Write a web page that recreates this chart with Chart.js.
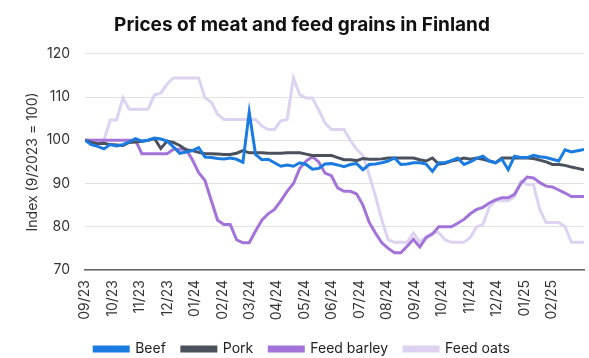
<!DOCTYPE html>
<html lang="en">
<head>
    <meta charset="UTF-8">
    <title>Prices of meat and feed grains in Finland</title>
    <script src="https://cdn.jsdelivr.net/npm/chart.js"></script>
    <style>
        html, body { margin: 0; padding: 0; background: #fff; }
        .wrap { width: 589px; height: 358px; }
    </style>
</head>
<body>
    <div class="wrap">
        <canvas id="myChart" width="589" height="358"></canvas>
    </div>

<script>
    // weekly index values, first week = 09/2023
    var beef = [100, 99, 98.6, 98, 99, 98.7, 99, 99.6, 100.4, 99.8, 100, 100.5, 100.3, 99.8, 98.5, 97, 97.3, 97.6, 98.3, 96.1,
        96, 95.8, 95.7, 95.9, 95.6, 94.9, 106.5, 96.7, 95.5, 95.6, 94.8, 94, 94.3, 94, 94.8, 94.4, 93.3, 93.5, 94.5, 94.6,
        94.3, 93.9, 94.4, 94.6, 93.2, 94.4, 94.5, 94.8, 95.2, 95.9, 94.4, 94.5, 94.8, 94.8, 94.5, 92.8, 94.8, 94.8, 95.3, 95.9,
        94.4, 95, 95.8, 96.3, 95.2, 94.8, 95.6, 93.2, 96.3, 96, 96, 96.5, 96.2, 96, 95.6, 95.2, 97.8, 97.3, 97.6, 97.9];
    var pork = [100, 99.5, 99.2, 99.3, 99, 98.9, 98.8, 99.5, 99.6, 99.8, 100, 100.4, 98.1, 99.8, 99.5, 98.8, 97.8, 97.6, 97.2, 96.9,
        96.9, 96.8, 96.7, 96.7, 97, 97.6, 97.1, 97.1, 97.1, 97, 97, 97, 97.1, 97.1, 97.1, 96.8, 96.5, 96.5, 96.5, 96.5,
        96, 95.5, 95.5, 95.3, 95.8, 95.6, 95.6, 95.7, 95.9, 95.9, 95.9, 95.9, 95.9, 95.5, 95.2, 95.9, 94.5, 94.7, 95.2, 95.5,
        95.9, 95.6, 95.9, 95.6, 95.2, 94.8, 95.9, 95.9, 95.9, 95.9, 95.9, 95.8, 95.4, 95, 94.4, 94.4, 94.2, 93.8, 93.5, 93.2];
    var barley = [100, 100, 100, 100, 100, 100, 100, 100, 100, 96.9, 96.9, 96.9, 96.9, 96.9, 97.9, 97.9, 97.9, 95.5, 92.5, 90.7,
        86, 81.5, 80.5, 80.5, 77, 76.3, 76.3, 79, 81.5, 83, 84, 86, 88.2, 90, 93.5, 95.2, 96.2, 95, 92.4, 91.8,
        89, 88.2, 88.2, 87.6, 85, 81, 78.5, 76.3, 75, 74, 74, 75.5, 77.1, 75.3, 77.5, 78.3, 80, 80, 80, 80.8,
        81.7, 83, 84, 84.5, 85.5, 86.2, 86.7, 86.7, 87.5, 90, 91.5, 91.3, 90.2, 89.4, 89.2, 88.5, 87.8, 87, 87, 87];
    var oats = [100, 100, 100, 100, 104.7, 104.7, 109.8, 107.2, 107.2, 107.2, 107.2, 110.5, 110.9, 113, 114.4, 114.4, 114.4, 114.4, 114.4, 109.8,
        108.8, 106, 104.8, 104.8, 104.8, 104.8, 104.8, 104.8, 103.3, 102.5, 102.5, 104.5, 104.8, 114.4, 110.5, 109.8, 109.8, 107, 104, 102.5,
        102.5, 102.5, 100, 97.9, 96.5, 92, 87, 81.5, 77, 76.4, 76.4, 76.4, 78.6, 76.5, 77.7, 78.6, 78.6, 77, 76.4, 76.4,
        76.4, 77.5, 80, 80.5, 84.5, 86, 86, 86, 87, 90.5, 89.8, 89.8, 84, 81, 81, 81, 80, 76.4, 76.4, 76.4];

    var monthLabels = ['09/23', '10/23', '11/23', '12/23', '01/24', '02/24', '03/24', '04/24', '05/24', '06/24',
        '07/24', '08/24', '09/24', '10/24', '11/24', '12/24', '01/25', '02/25'];
    var yTicks = [70, 80, 90, 100, 110, 120];

    var weeksPerMonth = 30.44 / 7;
    var fonte = 'Inter';

    function serie(valores) {
        return valores.map(function (v, i) { return { x: i, y: v }; });
    }

    function linha(nome, valores, cor) {
        return {
            label: nome,
            data: serie(valores),
            borderColor: cor,
            backgroundColor: cor,
            borderWidth: 3,
            pointRadius: 0,
            tension: 0
        };
    }

    var config = {
        type: 'line',
        data: {
            datasets: [
                linha('Beef', beef, '#1a7be0'),
                linha('Pork', pork, '#4a515c'),
                linha('Feed barley', barley, '#a273d9'),
                linha('Feed oats', oats, '#ddd2f0')
            ]
        },
        options: {
            responsive: false,
            animation: false,
            layout: { padding: { left: 20, right: 5, top: 10, bottom: 0 } },
            plugins: {
                title: {
                    display: true,
                    text: 'Prices of meat and feed grains in Finland',
                    font: { size: 19, weight: 'bold', family: fonte },
                    color: '#111',
                    padding: { top: 4, bottom: 17 }
                },
                legend: {
                    position: 'bottom',
                    labels: {
                        boxWidth: 34,
                        boxHeight: 4,
                        padding: 16,
                        font: { size: 14, family: fonte },
                        color: '#222'
                    }
                },
                tooltip: { enabled: false }
            },
            scales: {
                x: {
                    type: 'linear',
                    min: 0,
                    max: beef.length - 1,
                    grid: { display: false, drawTicks: false },
                    border: { display: true, color: '#666', width: 1.5 },
                    afterBuildTicks: function (scale) {
                        scale.ticks = monthLabels.map(function (l, m) { return { value: m * weeksPerMonth }; });
                    },
                    afterFit: function (scale) {
                        scale.height = 56;
                    },
                    ticks: {
                        minRotation: 90,
                        maxRotation: 90,
                        autoSkip: false,
                        padding: 10,
                        font: { size: 14, family: fonte },
                        color: '#333',
                        callback: function (value, index) { return monthLabels[index]; }
                    }
                },
                y: {
                    min: 70,
                    max: 120,
                    afterBuildTicks: function (scale) {
                        scale.ticks = yTicks.map(function (v) { return { value: v }; });
                    },
                    afterFit: function (scale) {
                        scale.width = 65;
                    },
                    grid: { color: '#e2e2e2', drawTicks: false, lineWidth: 1 },
                    border: { display: false },
                    ticks: {
                        padding: 15,
                        font: { size: 14, family: fonte },
                        color: '#333'
                    },
                    title: {
                        display: true,
                        text: 'Index (9/2023 = 100)',
                        font: { size: 14, family: fonte },
                        color: '#333',
                        padding: { top: 4, bottom: 4 }
                    }
                }
            }
        }
    };

    var ctx = document.getElementById('myChart').getContext('2d');
    var myChart = new Chart(ctx, config);

    // legenda mais baixa: corta a altura reservada para ela
    var fitOriginal = myChart.legend.fit;
    myChart.legend.fit = function () {
        fitOriginal.call(this);
        this.height = 32;
    };
    myChart.update();
</script>
</body>
</html>
